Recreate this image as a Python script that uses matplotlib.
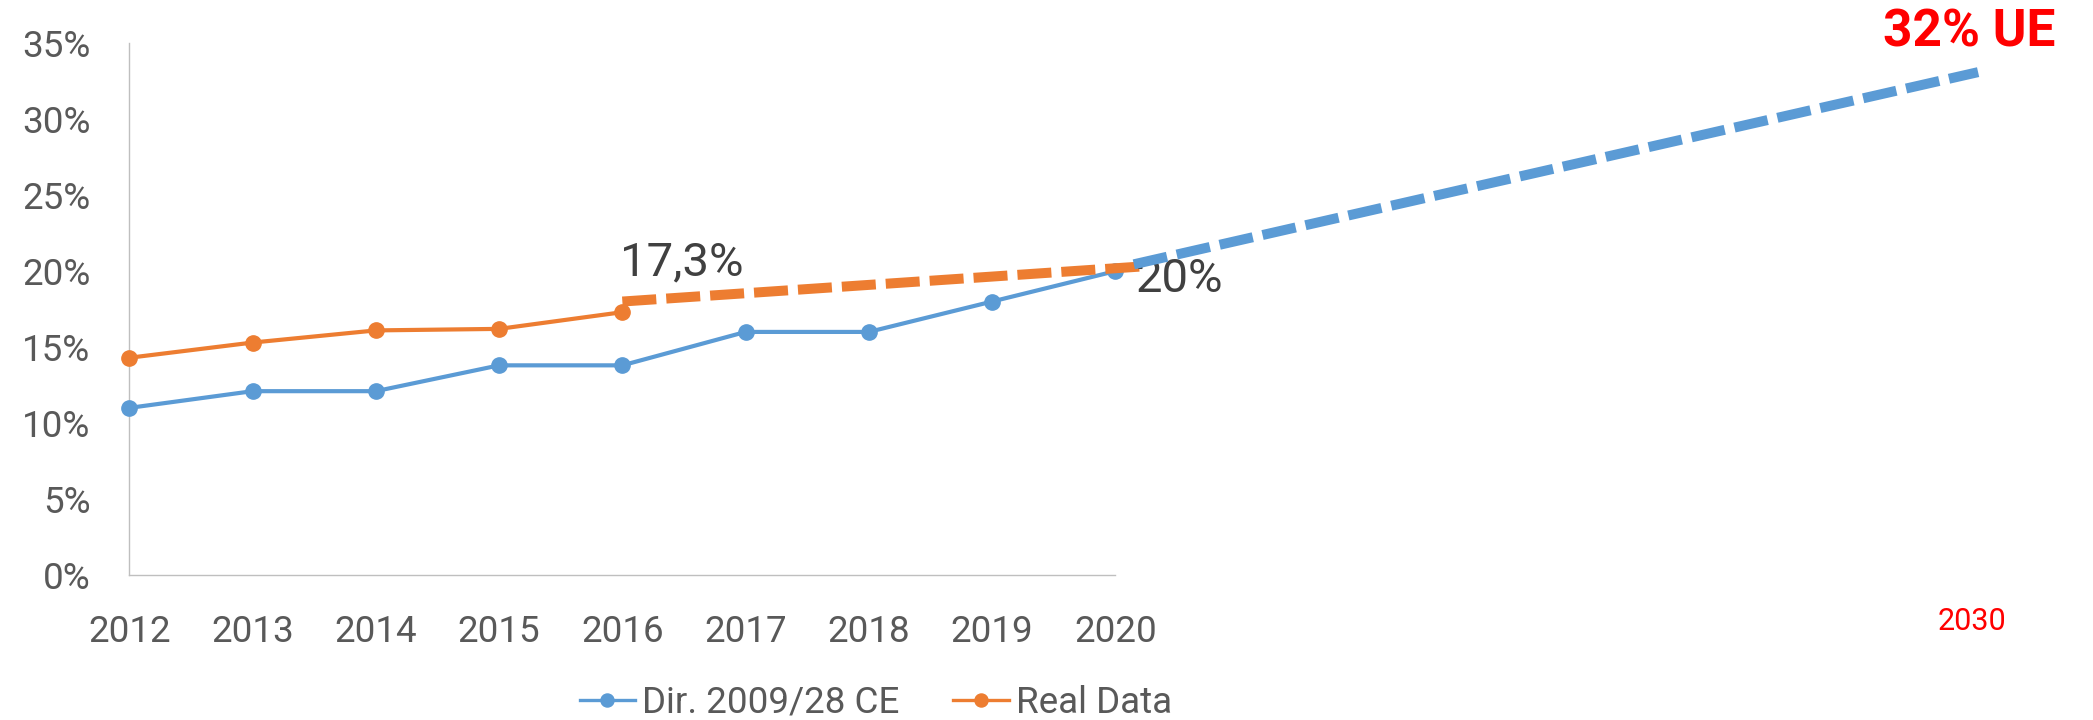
import matplotlib
matplotlib.use("Agg")
import matplotlib.pyplot as plt
from matplotlib.lines import Line2D

plt.rcParams['font.family'] = ['Roboto', 'DejaVu Sans']

# ---- data ----
years = [2012, 2013, 2014, 2015, 2016, 2017, 2018, 2019, 2020]
dir_values = [11.0, 12.1, 12.1, 13.8, 13.8, 16.0, 16.0, 18.0, 20.0]
real_years = [2012, 2013, 2014, 2015, 2016]
real_values = [14.3, 15.3, 16.1, 16.2, 17.3]

# projections (dashed)
real_proj_x = [2016.0, 2020.2]
real_proj_y = [18.0, 20.3]
dir_proj_x = [2020.15, 2027.0]
dir_proj_y = [20.45, 33.1]

yticks = [0, 5, 10, 15, 20, 25, 30, 35]
ytick_labels = ['0%', '5%', '10%', '15%', '20%', '25%', '30%', '35%']
xtick_labels = [str(y) for y in years]

label_real = '17,3%'
label_dir = '20%'
label_target = '32% UE'
label_target_year = '2030'

series_names = ['Dir. 2009/28 CE', 'Real Data']

BLUE = '#5B9BD5'
ORANGE = '#ED7D31'
RED = '#FF0000'
TICK_GRAY = '#595959'
TEXT_DARK = '#404040'
AXIS_GRAY = '#BFBFBF'

fig = plt.figure(figsize=(20.93, 7.2), dpi=100)
ax = fig.add_axes([0.0618, 0.2014, 0.9363, 0.7385])
ax.set_xlim(2012, 2027.9)
ax.set_ylim(0, 35)

# solid series
ax.plot(years, dir_values, color=BLUE, lw=3.0, marker='o', ms=11,
        solid_capstyle='round', zorder=3, clip_on=False)
ax.plot(real_years, real_values, color=ORANGE, lw=3.0, marker='o', ms=11,
        solid_capstyle='round', zorder=3, clip_on=False)

# dashed projections
ax.plot(real_proj_x, real_proj_y, color=ORANGE, lw=7.2, dashes=(3.4, 1.0),
        dash_capstyle='butt', zorder=4, clip_on=False)
ax.plot(dir_proj_x, dir_proj_y, color=BLUE, lw=7.2, dashes=(3.4, 1.0),
        dash_capstyle='butt', zorder=5, clip_on=False)

# annotations
ax.text(real_years[-1] - 0.02, 19.75, label_real, fontsize=34, color=TEXT_DARK,
        ha='left', va='baseline', zorder=4)
ax.text(years[-1] + 0.17, 18.6, label_dir, fontsize=34, color=TEXT_DARK,
        ha='left', va='baseline', zorder=4)
ax.text(2026.23, 34.76, label_target, fontsize=37, color=RED, fontweight='bold',
        ha='left', va='baseline', clip_on=False)
ax.text(dir_proj_x[-1] - 0.05, -3.62, label_target_year, fontsize=22, color=RED,
        ha='center', va='baseline', clip_on=False)

# axes styling
for s in ['top', 'right']:
    ax.spines[s].set_visible(False)
ax.spines['left'].set_color(AXIS_GRAY)
ax.spines['bottom'].set_color(AXIS_GRAY)
ax.spines['left'].set_linewidth(1.0)
ax.spines['bottom'].set_linewidth(1.0)
ax.spines['bottom'].set_bounds(years[0], years[-1])

ax.set_yticks(yticks)
ax.set_yticklabels(ytick_labels)
ax.set_xticks(years)
ax.set_xticklabels(xtick_labels)
ax.tick_params(axis='y', length=0, pad=28, labelsize=26.5, labelcolor=TICK_GRAY)
ax.tick_params(axis='x', length=0, pad=28, labelsize=26.5, labelcolor=TICK_GRAY)

handles = [
    Line2D([], [], color=BLUE, lw=2.4, marker='o', ms=9.4),
    Line2D([], [], color=ORANGE, lw=2.4, marker='o', ms=9.4),
]
leg = fig.legend(handles, series_names, loc='center left', bbox_to_anchor=(0.277, 0.024),
                 ncol=2, frameon=False, fontsize=26.5, handlelength=1.5,
                 handletextpad=0.19, columnspacing=1.47, borderaxespad=0, borderpad=0)
for t in leg.get_texts():
    t.set_color(TICK_GRAY)

fig.savefig('out.png', dpi=100)
